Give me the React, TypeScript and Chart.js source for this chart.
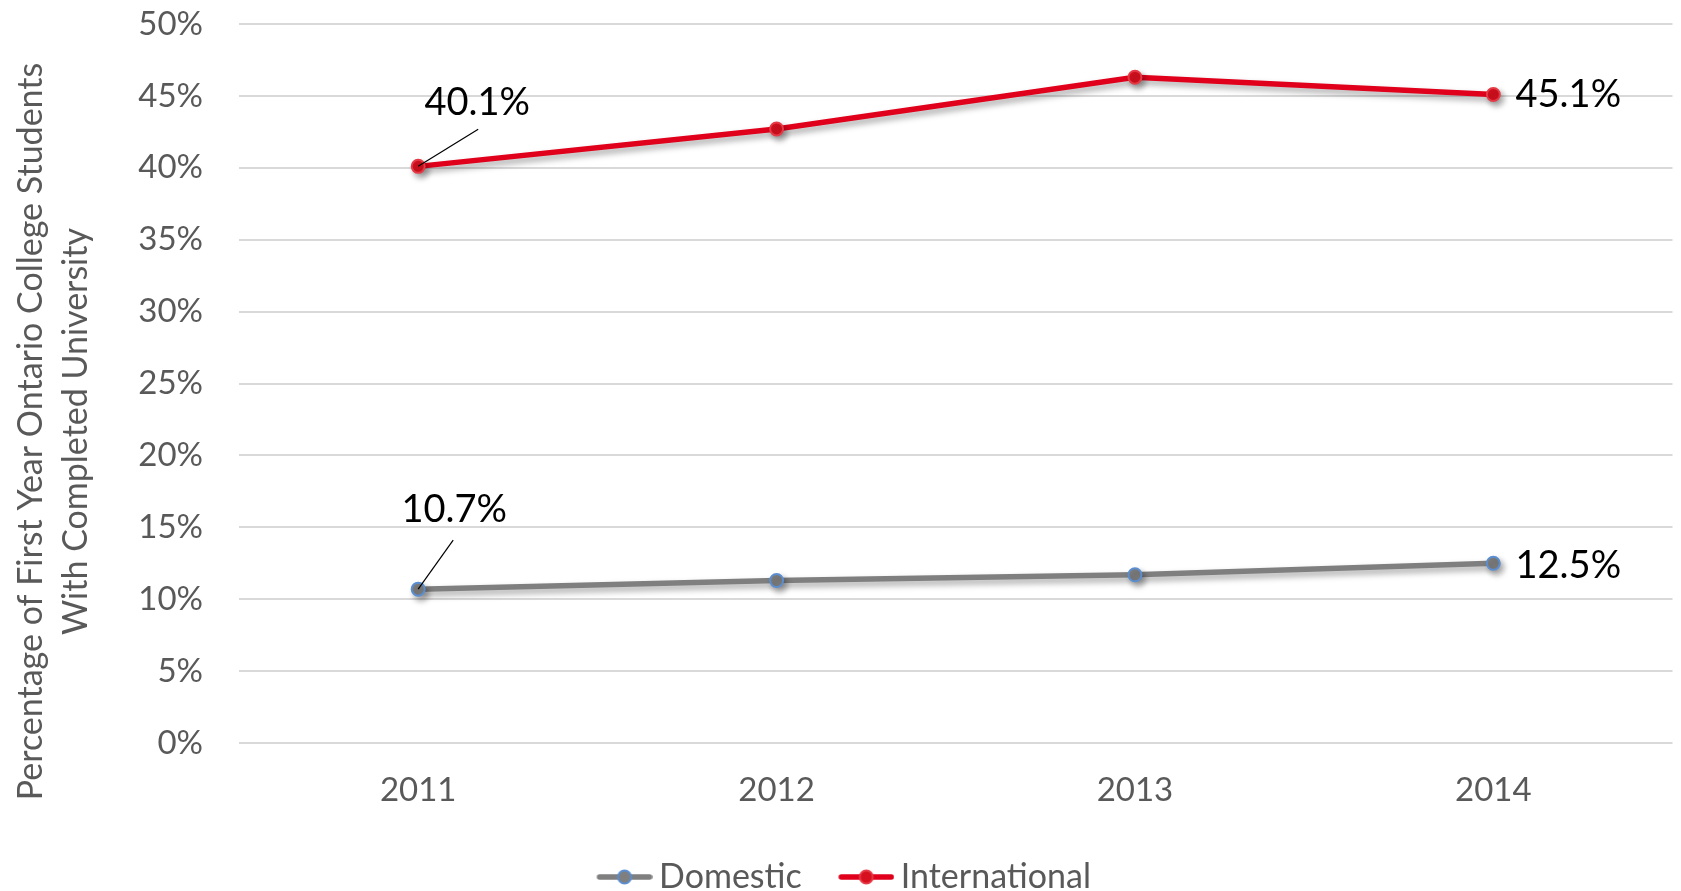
import React, { useEffect, useRef } from 'react';
import { Chart, registerables } from 'chart.js';

Chart.register(...registerables);

// ---- data ----
const years = ['2011', '2012', '2013', '2014'];
const seriesNames = ['Domestic', 'International'];
const domesticValues = [10.7, 11.3, 11.7, 12.5];
const internationalValues = [40.1, 42.7, 46.3, 45.1];
const yMin = 0;
const yMax = 50;
const yStep = 5;
const yTitleLines = ['Percentage of First Year Ontario College Students', 'With Completed University'];
// which points carry a value label: [seriesIndex, pointIndex]
const labelledPoints: [number, number][] = [
  [1, 0],
  [0, 0],
  [1, 3],
  [0, 3],
];

// ---- styles ----
const FONT = 'Lato, "Open Sans", sans-serif';
const GREY_TEXT = '#595959';
const RED = '#E0001B';
const RED_POINT = '#D7101F';
const GREY_LINE = '#7F7F7F';
const GREY_POINT = '#7F7F7F';
const BLUE_BORDER = '#5B8ED0';

// label offsets (pixels relative to point) and optional leader line end
const labelStyle = [
  { dx: 59, dy: -64, leader: [60, -37] },
  { dx: 36, dy: -79, leader: [35, -49] },
  { dx: 75, dy: 0, leader: null },
  { dx: 75, dy: 2, leader: null },
];

function makeLegendIcon(lineColor: string, fill: string, border: string) {
  const c = document.createElement('canvas');
  const shift = 15;
  c.width = 56 + shift;
  c.height = 18;
  const ctx = c.getContext('2d')!;
  ctx.strokeStyle = lineColor;
  ctx.lineWidth = 5.5;
  ctx.lineCap = 'round';
  ctx.beginPath();
  ctx.moveTo(shift + 3, 9);
  ctx.lineTo(shift + 53, 9);
  ctx.stroke();
  ctx.beginPath();
  ctx.arc(shift + 28, 9, 6.5, 0, Math.PI * 2);
  ctx.fillStyle = fill;
  ctx.fill();
  ctx.lineWidth = 2;
  ctx.strokeStyle = border;
  ctx.stroke();
  return c;
}

const shadowPlugin = {
  id: 'lineShadow',
  beforeDatasetDraw(chart: any) {
    const ctx = chart.ctx;
    ctx.save();
    ctx.shadowColor = 'rgba(0,0,0,0.35)';
    ctx.shadowBlur = 6;
    ctx.shadowOffsetX = 3;
    ctx.shadowOffsetY = 4;
  },
  afterDatasetDraw(chart: any) {
    chart.ctx.restore();
  },
};

const valueLabelPlugin = {
  id: 'valueLabels',
  afterDatasetsDraw(chart: any) {
    const ctx = chart.ctx;
    ctx.save();
    labelledPoints.forEach(([s, i], k) => {
      const el = chart.getDatasetMeta(s).data[i];
      if (!el) return;
      const st = labelStyle[k];
      const value = chart.data.datasets[s].data[i] as number;
      if (st.leader) {
        ctx.strokeStyle = '#000';
        ctx.lineWidth = 1.2;
        ctx.beginPath();
        ctx.moveTo(el.x, el.y);
        ctx.lineTo(el.x + st.leader[0], el.y + st.leader[1]);
        ctx.stroke();
      }
      ctx.fillStyle = '#000';
      ctx.font = `38px ${FONT}`;
      ctx.textAlign = 'center';
      ctx.textBaseline = 'middle';
      ctx.fillText(value.toFixed(1) + '%', el.x + st.dx, el.y + st.dy);
    });
    ctx.restore();
  },
};

const yTitlePlugin = {
  id: 'yTitle',
  afterDraw(chart: any) {
    const ctx = chart.ctx;
    const area = chart.chartArea;
    const cy = (area.top + area.bottom) / 2 + 48;
    ctx.save();
    ctx.translate(0, cy);
    ctx.rotate(-Math.PI / 2);
    ctx.fillStyle = GREY_TEXT;
    ctx.font = `34px ${FONT}`;
    ctx.textAlign = 'center';
    ctx.textBaseline = 'alphabetic';
    yTitleLines.forEach((line, idx) => {
      ctx.fillText(line, 0, 42 + idx * 45);
    });
    ctx.restore();
  },
};

export default function App() {
  const canvasRef = useRef<HTMLCanvasElement | null>(null);

  useEffect(() => {
    if (!canvasRef.current) return;
    const icons = [
      makeLegendIcon(GREY_LINE, GREY_POINT, BLUE_BORDER),
      makeLegendIcon(RED, RED_POINT, '#E53945'),
    ];
    const chart = new Chart(canvasRef.current, {
      type: 'line',
      data: {
        labels: years,
        datasets: [
          {
            label: seriesNames[0],
            data: domesticValues,
            borderColor: GREY_LINE,
            borderWidth: 5.5,
            pointRadius: 6.5,
            pointBorderWidth: 2,
            pointBackgroundColor: GREY_POINT,
            pointBorderColor: BLUE_BORDER,
            tension: 0,
          },
          {
            label: seriesNames[1],
            data: internationalValues,
            borderColor: RED,
            borderWidth: 5.5,
            pointRadius: 6.5,
            pointBorderWidth: 2,
            pointBackgroundColor: RED_POINT,
            pointBorderColor: '#E53945',
            tension: 0,
          },
        ],
      },
      options: {
        responsive: false,
        animation: false,
        devicePixelRatio: 1,
        layout: { padding: { left: 0, right: -2, top: 24, bottom: -13 } },
        plugins: {
          tooltip: { enabled: false },
          legend: {
            position: 'bottom',
            labels: {
              usePointStyle: true,
              pointStyleWidth: 50,
              padding: 32,
              color: GREY_TEXT,
              font: { family: FONT, size: 34 },
              generateLabels: (ch: any) =>
                ch.data.datasets.map((ds: any, i: number) => ({
                  text: ds.label,
                  pointStyle: icons[i],
                  fillStyle: 'transparent',
                  strokeStyle: 'transparent',
                  lineWidth: 0,
                  hidden: false,
                  datasetIndex: i,
                  fontColor: GREY_TEXT,
                })),
            },
          },
        },
        scales: {
          x: {
            offset: true,
            grid: { display: false, drawTicks: false },
            border: { display: false },
            ticks: { color: GREY_TEXT, font: { family: FONT, size: 33 }, padding: 28 },
            afterFit: (scale: any) => {
              scale.height = 85;
              scale.paddingLeft = 0;
              scale.paddingRight = 0;
            },
          },
          y: {
            min: yMin,
            max: yMax,
            grid: { color: '#D9D9D9', lineWidth: 2, drawTicks: false },
            border: { display: false },
            ticks: {
              stepSize: yStep,
              padding: 36,
              color: GREY_TEXT,
              font: { family: FONT, size: 33 },
              callback: (v: any) => v + '%',
            },
            afterFit: (scale: any) => {
              scale.width = 239;
              scale.paddingTop = 24;
              scale.paddingBottom = 0;
            },
          },
        },
      },
      plugins: [shadowPlugin, valueLabelPlugin, yTitlePlugin],
    });
    return () => chart.destroy();
  }, []);

  return (
    <div style={{ position: 'fixed', left: 0, top: 0, width: 1681, height: 891, background: '#fff' }}>
      <canvas ref={canvasRef} width={1681} height={891} style={{ display: 'block' }} />
    </div>
  );
}
